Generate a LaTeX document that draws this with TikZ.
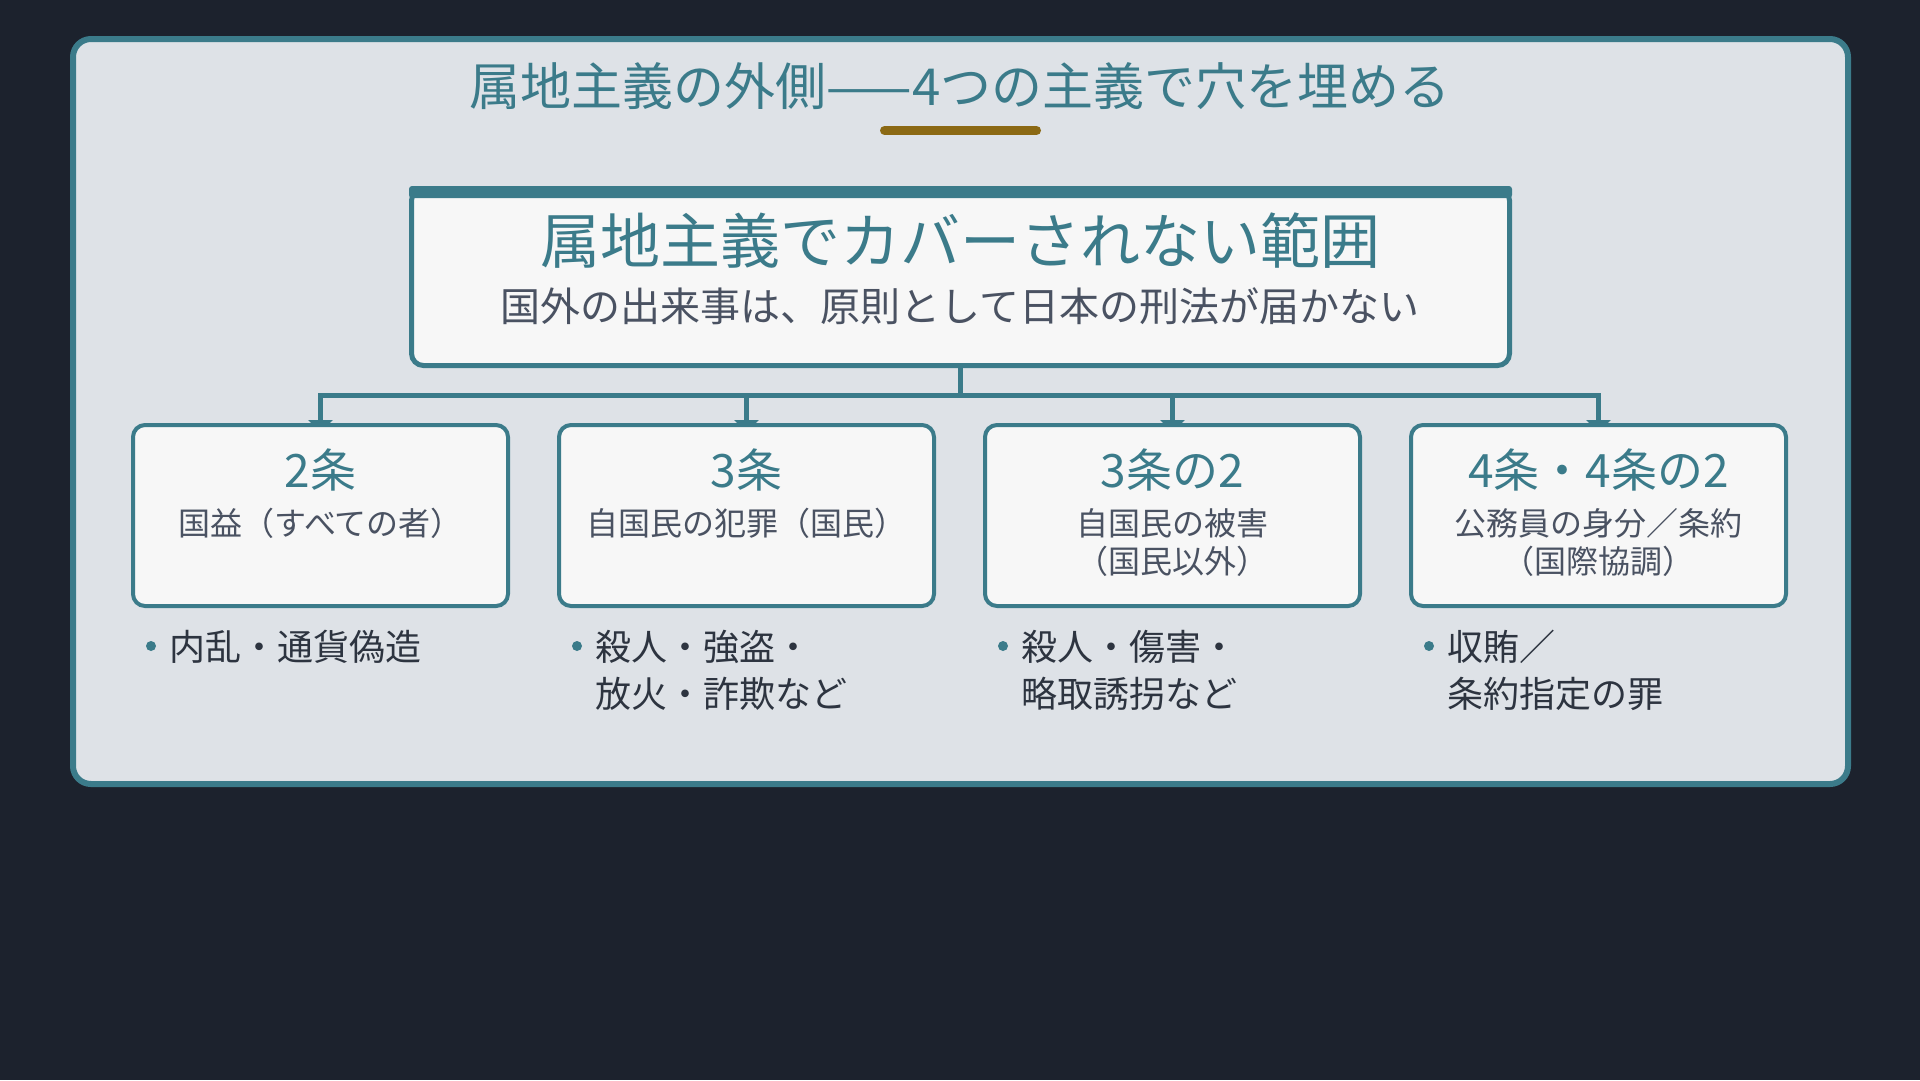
\documentclass[tikz,border=0pt]{standalone}
\usepackage{fontspec}
\setmainfont{Noto Sans CJK JP}
\usepackage{xcolor}
\usepackage{tikz}
\usetikzlibrary{calc,arrows.meta,positioning}
\definecolor{bg}{HTML}{1C222D}
\definecolor{panel}{HTML}{DEE2E7}
\definecolor{accent}{HTML}{3B7B8A}
\definecolor{cardbg}{HTML}{F7F7F7}
\definecolor{gold}{HTML}{8B6914}
\definecolor{muted}{HTML}{4A5262}
\definecolor{text}{HTML}{2D3440}
\pgfdeclarelayer{back}
\pgfdeclarelayer{conn}
\pgfsetlayers{back,conn,main}
\tikzset{
  card/.style={draw=accent, fill=cardbg, line width=4pt, rounded corners=12pt, minimum width=375pt, minimum height=181pt, inner sep=0pt},
  head/.style={text=accent, anchor=base, inner sep=0pt, font=\fontsize{46}{52}\selectfont},
  sub/.style={text=muted, anchor=base, align=center, inner sep=0pt, font=\fontsize{32}{38}\selectfont},
  item/.style={text=text, anchor=base west, align=left, inner sep=0pt, font=\fontsize{36}{47}\selectfont},
  dot/.style={circle, fill=accent, inner sep=0pt, minimum size=10pt},
  link/.style={draw=accent, line width=5pt},
}
\begin{document}
\begin{tikzpicture}[x=1pt,y=-1pt]
\begin{pgfonlayer}{back}
\fill[bg] (0,0) rectangle (1920,1080);
\draw[accent, line width=6pt, fill=panel, rounded corners=18pt] (73,39) rectangle (1848,784);
\end{pgfonlayer}
\useasboundingbox (0,0) rectangle (1920,1080);

% title
\node[text=accent, anchor=base, inner sep=0pt, font=\fontsize{51}{60}\selectfont] (title) at (960,105) {属地主義の外側——4つの主義で穴を埋める};
\draw[gold, line width=9pt, line cap=round] (884.5,130.5) -- (1036.5,130.5);

% gap box
\node[draw=accent, fill=cardbg, line width=5pt, rounded corners=12pt, minimum width=1098pt, minimum height=177pt, inner sep=0pt] (gap) at (960.5,277) {};
\fill[accent, rounded corners=3pt] (gap.north west) rectangle ($(gap.north east)+(0,12)$);
\node[text=accent, anchor=base, inner sep=0pt, font=\fontsize{60}{70}\selectfont] (gaphead) at (960,263) {属地主義でカバーされない範囲};
\node[text=muted, anchor=base, inner sep=0pt, font=\fontsize{40}{48}\selectfont] (gapsub) at (960,321) {国外の出来事は、原則として日本の刑法が届かない};

% four principles (base = last line)
\foreach \i/\x/\h/\s/\sy/\b/\by in {
  1/320.5/{2条}/{国益（すべての者）}/112/{内乱・通貨偽造}/52,
  2/746.5/{3条}/{自国民の犯罪（国民）}/112/{殺人・強盗・\\放火・詐欺など}/99,
  3/1172.5/{3条の2}/{自国民の被害\\（国民以外）}/150/{殺人・傷害・\\略取誘拐など}/99,
  4/1598.5/{4条・4条の2}/{公務員の身分／条約\\（国際協調）}/150/{収賄／\\条約指定の罪}/99} {
  \node[card] (c\i) at (\x,515.5) {};
  \node[head] (h\i) at ($(c\i.north)+(0,64.5)$) {\h};
  \node[sub] (s\i) at ($(c\i.north)+(0,\sy)$) {\s};
  \node[dot] (d\i) at ($(c\i.south west)+(20,38)$) {};
  \node[item] (t\i) at ($(c\i.south west)+(38,\by)$) {\b};
}

\coordinate (bus) at (960.5,395.5);
\begin{pgfonlayer}{conn}
\draw[link] (gap.south) -- (gap.south |- bus);
\draw[link, line cap=rect] (c1.north |- bus) -- (c4.north |- bus);
\foreach \i in {1,...,4}
  \draw[link, -{Triangle[width=24pt,length=12pt]}, shorten >=-9pt] (c\i.north |- bus) -- (c\i.north);
\end{pgfonlayer}
\end{tikzpicture}
\end{document}
